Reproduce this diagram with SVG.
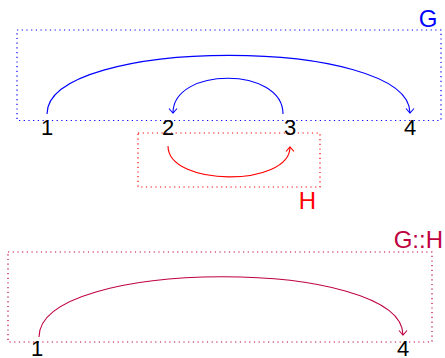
<svg xmlns="http://www.w3.org/2000/svg" width="445" height="358" viewBox="0 0 445 358">
  <defs>
    <style>
      .lbl { font-family: "Liberation Sans", Arial, sans-serif; }
      .num { font-size: 22px; fill: #000; text-anchor: middle; }
      .cap { font-size: 24px; }
      .box { fill: none; stroke-width: 1.2; stroke-dasharray: 1.2 3.5; }
      .edge { fill: none; stroke-width: 1.1; }
    </style>
    <marker id="arrB" markerUnits="userSpaceOnUse" markerWidth="12" markerHeight="12" refX="0" refY="0" viewBox="-6 -6 12 12" orient="auto" overflow="visible">
      <path d="M-4.5,-4 Q-1,-1 0,0 Q-1,1 -4.5,4" fill="none" stroke="#0000ff" stroke-width="1.1"/>
    </marker>
    <marker id="arrR" markerUnits="userSpaceOnUse" markerWidth="12" markerHeight="12" refX="0" refY="0" viewBox="-6 -6 12 12" orient="auto" overflow="visible">
      <path d="M-4.5,-4 Q-1,-1 0,0 Q-1,1 -4.5,4" fill="none" stroke="#ff0000" stroke-width="1.1"/>
    </marker>
    <marker id="arrP" markerUnits="userSpaceOnUse" markerWidth="12" markerHeight="12" refX="0" refY="0" viewBox="-6 -6 12 12" orient="auto" overflow="visible">
      <path d="M-4.5,-4 Q-1,-1 0,0 Q-1,1 -4.5,4" fill="none" stroke="#bf0040" stroke-width="1.1"/>
    </marker>
  </defs>

  <g id="cluster-G">
    <rect class="box" x="17" y="30" width="424" height="90.5" stroke="#0000ff"/>
    <text class="lbl cap" x="428" y="26.5" text-anchor="middle" fill="#0000ff">G</text>
  </g>
  <g id="cluster-H">
    <rect class="box" x="138" y="133" width="182" height="54" stroke="#ff0000"/>
    <text class="lbl cap" x="307.5" y="208.5" text-anchor="middle" fill="#ff0000">H</text>
  </g>
  <g id="cluster-GH">
    <rect class="box" x="8" y="252" width="424" height="90" stroke="#bf0040"/>
    <text class="lbl cap" x="443" y="248" text-anchor="end" fill="#bf0040">G::H</text>
  </g>

  <g id="connectors">
    <path class="edge" d="M47,114 C47,36 410,36 410,113" stroke="#0000ff" marker-end="url(#arrB)"/>
    <path class="edge" d="M283,114 C283,66.5 173,66.5 173,113" stroke="#0000ff" marker-end="url(#arrB)"/>
    <path class="edge" d="M168,146 C168,187 290,187 290,147" stroke="#ff0000" marker-end="url(#arrR)"/>
    <path class="edge" d="M39,337 C39,257 403,257 403,335" stroke="#bf0040" marker-end="url(#arrP)"/>
  </g>

  <g id="node-G1"><text class="lbl num" x="47" y="135">1</text></g>
  <g id="node-G2"><text class="lbl num" x="168" y="135">2</text></g>
  <g id="node-G3"><text class="lbl num" x="290" y="135">3</text></g>
  <g id="node-G4"><text class="lbl num" x="410" y="135">4</text></g>
  <g id="node-GH1"><text class="lbl num" x="37" y="356">1</text></g>
  <g id="node-GH4"><text class="lbl num" x="403" y="356">4</text></g>
</svg>
